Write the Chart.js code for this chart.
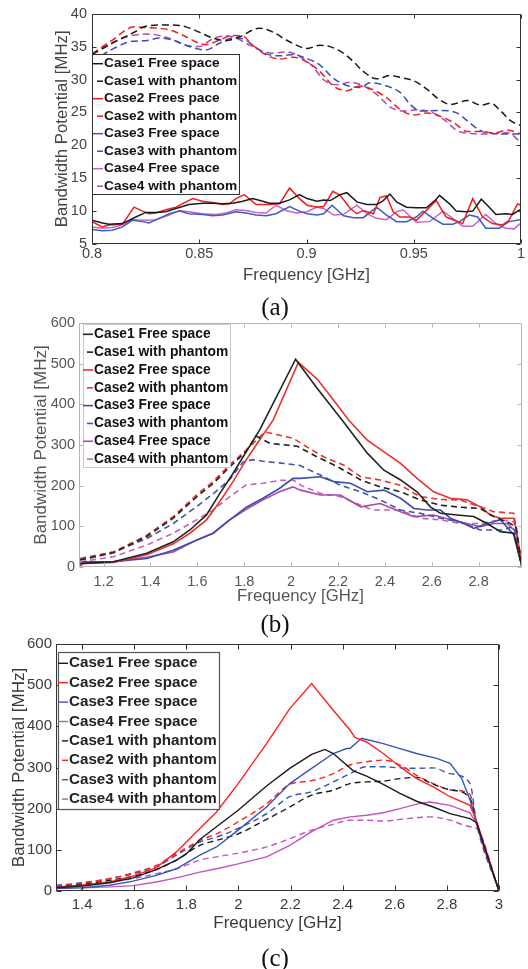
<!DOCTYPE html>
<html><head><meta charset="utf-8">
<script src="https://cdn.jsdelivr.net/npm/chart.js@4.4.1/dist/chart.umd.min.js"></script>
<style>
html,body{margin:0;padding:0;background:#fff}
body{width:528px;height:969px;position:relative;overflow:hidden}
canvas{position:absolute;left:0}
.cap{position:absolute;left:0;width:550px;text-align:center;font-family:"Liberation Serif","Times New Roman",serif;font-size:25px;line-height:25px;color:#111}
</style></head><body>
<canvas id="ca" width="528" height="290" style="top:0"></canvas>
<canvas id="cb" width="528" height="310" style="top:300px"></canvas>
<canvas id="cc" width="528" height="320" style="top:630px"></canvas>
<div class="cap" style="top:294px">(a)</div>
<div class="cap" style="top:611px">(b)</div>
<div class="cap" style="top:945px">(c)</div>
<script>
// ---------------- Panel (a) ----------------
const aXTicks = [0.8, 0.85, 0.9, 0.95, 1.0];
const aXTickLabels = ['0.8', '0.85', '0.9', '0.95', '1'];
const aYTicks = [5, 10, 15, 20, 25, 30, 35, 40];
const aYTickLabels = ['5', '10', '15', '20', '25', '30', '35', '40'];

const aC1FreeF = [0.8,0.8048,0.8079,0.8142,0.8204,0.8251,0.8298,0.8344,0.8391,0.8453,0.8516,0.8562,0.8609,0.8656,0.8703,0.8749,0.8796,0.8827,0.8874,0.8921,0.8967,0.9003,0.9049,0.908,0.9111,0.9157,0.9188,0.9235,0.9281,0.9327,0.9358,0.9389,0.942,0.9466,0.9512,0.9559,0.9605,0.962,0.9667,0.9698,0.9744,0.9775,0.9815,0.9852,0.9883,0.9929,0.996,1.0];
const aC1FreeV = [8.6,8.2,8.0,8.1,9.1,9.8,9.8,9.9,10.4,11.0,11.2,11.2,11.1,11.2,11.5,11.9,11.5,11.2,11.2,11.7,12.5,11.9,11.5,11.7,11.6,12.5,12.8,11.4,11.0,11.0,11.6,12.6,11.4,10.6,10.5,10.5,11.8,12.4,11.1,10.0,9.9,10.0,11.8,10.6,9.5,9.6,9.5,10.3];
const aC1PhF = [0.8,0.81,0.8203,0.825,0.8375,0.8438,0.85,0.8563,0.8625,0.8688,0.8781,0.8844,0.8906,0.8969,0.9,0.9063,0.9109,0.9172,0.9219,0.9266,0.9328,0.9391,0.9438,0.95,0.9563,0.9609,0.9672,0.975,0.9813,0.9859,0.9906,0.9953,1.0];
const aC1PhV = [33.8,35.6,37.3,38.1,38.3,38.0,37.2,36.3,35.9,36.5,37.8,37.2,36.0,35.0,34.7,35.2,35.0,34.0,32.7,31.2,30.1,30.6,30.3,29.8,28.5,27.2,26.2,26.8,26.1,26.4,25.2,23.7,23.0];
const aC2FreeF = [0.8,0.8048,0.8079,0.8142,0.8196,0.8235,0.8266,0.8298,0.8344,0.8391,0.8438,0.8469,0.8516,0.8562,0.8609,0.864,0.8671,0.871,0.8765,0.8827,0.8874,0.8921,0.8967,0.9003,0.9049,0.908,0.9123,0.9157,0.9204,0.9235,0.9265,0.9312,0.9343,0.9373,0.9404,0.9435,0.9481,0.9512,0.9543,0.9574,0.9605,0.9651,0.9698,0.9728,0.9775,0.9821,0.9867,0.9914,0.9944,0.9984,1.0];
const aC2FreeV = [8.4,7.6,7.9,8.0,10.6,10.0,9.6,9.7,10.2,10.6,11.4,11.9,11.5,11.3,11.0,11.1,11.9,12.5,11.0,11.0,11.1,13.5,11.9,10.9,10.6,10.7,13.0,12.4,10.4,9.6,10.1,9.6,12.1,12.3,9.9,9.1,9.1,8.6,9.6,10.6,11.6,9.1,8.5,8.1,11.9,9.1,8.1,7.9,8.6,11.1,10.9];
const aC2PhF = [0.8,0.8095,0.8196,0.825,0.8313,0.8375,0.8438,0.85,0.8531,0.8594,0.8656,0.8703,0.875,0.8813,0.8875,0.8938,0.9,0.9063,0.9125,0.9188,0.925,0.9313,0.9375,0.9438,0.95,0.9563,0.9625,0.9688,0.975,0.9813,0.9875,0.9938,1.0];
const aC2PhV = [33.9,36.0,38.0,37.9,37.8,37.4,36.5,35.5,35.3,36.0,36.7,36.6,35.2,33.7,33.1,33.4,32.7,31.2,29.0,28.3,29.0,28.4,27.2,25.4,24.6,24.9,24.4,23.4,22.1,22.1,21.9,22.3,21.7];
const aC3FreeF = [0.8,0.8048,0.8095,0.8142,0.8188,0.8235,0.8266,0.8313,0.836,0.8407,0.8453,0.8516,0.8562,0.8609,0.8671,0.8718,0.8765,0.8812,0.8858,0.8921,0.8967,0.9003,0.9049,0.908,0.9119,0.9173,0.9219,0.9265,0.9327,0.9373,0.942,0.9466,0.9512,0.9543,0.959,0.9636,0.9682,0.9713,0.9759,0.9798,0.9836,0.9898,0.9944,0.9995];
const aC3FreeV = [7.2,7.0,7.1,7.6,8.6,8.4,8.2,8.9,9.6,10.0,9.6,9.5,9.3,9.4,9.9,9.7,9.4,9.3,9.6,10.7,10.0,9.6,9.4,9.6,10.9,9.3,9.0,9.0,10.6,9.4,8.4,8.4,9.1,10.0,8.9,8.0,8.0,8.4,9.4,9.1,7.4,7.4,8.4,8.7];
const aC3PhF = [0.8,0.81,0.8188,0.825,0.8313,0.8375,0.8438,0.85,0.8531,0.8594,0.8656,0.8703,0.875,0.8813,0.8875,0.8938,0.9,0.9063,0.9125,0.9188,0.925,0.9297,0.9375,0.9438,0.9484,0.9531,0.9625,0.9703,0.975,0.9813,0.9875,0.9938,1.0];
const aC3PhV = [32.7,34.7,35.8,35.9,36.3,36.0,35.2,34.6,34.5,35.5,36.3,36.2,35.2,33.9,33.6,33.8,33.2,32.2,30.2,29.1,28.8,29.5,29.0,28.0,26.2,25.2,25.3,24.9,23.7,22.2,21.8,21.7,21.7];
const aC4FreeF = [0.8,0.8048,0.8095,0.8142,0.8188,0.8251,0.8298,0.836,0.8407,0.8453,0.8516,0.8578,0.8625,0.8671,0.8718,0.8765,0.8812,0.8858,0.8905,0.8952,0.9003,0.9049,0.908,0.9127,0.9173,0.9235,0.9281,0.9327,0.9373,0.942,0.9451,0.9512,0.9574,0.9636,0.9682,0.9728,0.9775,0.9836,0.9883,0.9929,0.9968,0.9995];
const aC4FreeV = [7.6,7.4,7.5,7.9,8.7,8.6,8.7,9.4,10.1,9.9,9.6,9.5,9.7,10.2,10.1,9.8,9.7,10.9,10.1,9.7,9.9,10.6,10.4,9.4,9.5,10.9,9.6,8.9,8.7,9.9,10.2,8.3,8.4,10.0,8.9,7.7,7.7,9.5,8.1,7.4,7.3,8.1];
const aC4PhF = [0.8,0.81,0.8188,0.825,0.8313,0.8375,0.8438,0.85,0.8563,0.8625,0.8656,0.8719,0.8781,0.8844,0.8906,0.8969,0.9031,0.9078,0.9141,0.9203,0.9266,0.9328,0.9391,0.9453,0.9516,0.9578,0.9641,0.9703,0.9766,0.9828,0.9891,0.9938,1.0];
const aC4PhV = [33.9,35.7,36.7,36.9,36.7,36.1,35.2,35.0,36.2,36.6,36.5,35.5,34.5,34.0,34.2,33.5,31.9,30.0,29.2,29.6,29.0,27.7,25.8,25.2,25.4,25.1,23.9,22.2,21.8,21.7,21.8,21.9,20.4];

// ---------------- Panel (b) ----------------
const bXTicks = [1.2, 1.4, 1.6, 1.8, 2.0, 2.2, 2.4, 2.6, 2.8];
const bXTickLabels = ['1.2', '1.4', '1.6', '1.8', '2', '2.2', '2.4', '2.6', '2.8'];
const bYTicks = [0, 100, 200, 300, 400, 500, 600];
const bYTickLabels = ['0', '100', '200', '300', '400', '500', '600'];

const bC1FreeF = [1.1,1.242,1.384,1.497,1.568,1.639,1.696,1.752,1.809,1.866,2.019,2.11,2.218,2.325,2.396,2.467,2.537,2.594,2.637,2.708,2.779,2.836,2.893,2.95,2.985];
const bC1FreeV = [9,13,34,62,91,128,181,230,284,337,511,440,361,280,238,214,185,148,132,128,124,107,87,83,0];
const bC1PhF = [1.1,1.242,1.384,1.497,1.596,1.667,1.738,1.809,1.85,1.91,2.026,2.11,2.197,2.297,2.38,2.467,2.55,2.637,2.72,2.807,2.864,2.92,2.96,2.985];
const bC1PhV = [17,35,75,120,172,205,246,285,322,304,297,271,247,214,197,185,165,152,147,144,124,111,99,0];
const bC2FreeF = [1.1,1.242,1.384,1.497,1.568,1.639,1.696,1.752,1.809,1.866,1.923,2.031,2.111,2.18,2.246,2.325,2.396,2.467,2.537,2.608,2.679,2.75,2.807,2.85,2.893,2.95,2.96,2.985];
const bC2FreeV = [8,11,30,57,83,116,161,210,264,313,361,503,462,411,361,312,283,255,218,185,169,165,148,128,120,120,92,0];
const bC2PhF = [1.1,1.242,1.384,1.497,1.596,1.667,1.738,1.809,1.866,1.89,2.01,2.054,2.138,2.223,2.297,2.38,2.467,2.55,2.637,2.72,2.807,2.864,2.95,2.985];
const bC2PhV = [18,37,78,124,177,210,251,288,320,332,316,300,271,251,222,214,201,173,166,165,148,136,132,0];
const bC3FreeF = [1.1,1.115,1.242,1.384,1.497,1.596,1.667,1.738,1.809,1.88,1.95,2.008,2.04,2.125,2.182,2.253,2.325,2.396,2.467,2.524,2.58,2.637,2.68,2.736,2.78,2.836,2.893,2.95,2.985];
const bC3FreeV = [2,13,13,21,41,66,83,116,147,169,193,218,218,222,210,206,185,189,169,144,140,140,120,107,95,107,116,79,0];
const bC3PhF = [1.1,1.242,1.384,1.497,1.596,1.667,1.738,1.795,1.838,1.88,1.95,2.036,2.125,2.21,2.297,2.38,2.467,2.55,2.637,2.72,2.807,2.893,2.95,2.985];
const bC3PhV = [21,37,70,107,148,180,215,258,264,260,256,250,226,201,185,165,140,132,120,111,91,91,99,0];
const bC4FreeF = [1.1,1.242,1.384,1.497,1.596,1.667,1.738,1.809,1.88,1.95,2.008,2.04,2.125,2.21,2.297,2.38,2.467,2.524,2.608,2.68,2.75,2.807,2.864,2.92,2.96,2.985];
const bC4FreeV = [8,13,24,37,66,83,116,142,165,185,197,189,177,177,148,156,136,124,128,116,107,99,107,107,87,0];
const bC4PhF = [1.1,1.242,1.384,1.497,1.596,1.667,1.738,1.809,1.88,1.95,2.008,2.045,2.125,2.21,2.297,2.35,2.467,2.55,2.637,2.72,2.807,2.893,2.95,2.985];
const bC4PhV = [13,25,54,83,116,140,173,202,206,213,214,200,181,173,152,140,140,120,116,107,107,116,111,0];

// ---------------- Panel (c) ----------------
const cXTicks = [1.4, 1.6, 1.8, 2.0, 2.2, 2.4, 2.6, 2.8, 3.0];
const cXTickLabels = ['1.4', '1.6', '1.8', '2', '2.2', '2.4', '2.6', '2.8', '3'];
const cYTicks = [0, 100, 200, 300, 400, 500, 600];
const cYTickLabels = ['0', '100', '200', '300', '400', '500', '600'];

const cC1FreeF = [1.3,1.4,1.506,1.596,1.685,1.762,1.8,1.852,1.916,1.999,2.108,2.197,2.281,2.332,2.364,2.441,2.492,2.556,2.62,2.684,2.748,2.812,2.889,2.914,3.0];
const cC1FreeV = [8,12,20,32,52,75,90,125,156,196,255,298,332,344,334,292,279,259,237,218,204,188,176,166,0];
const cC2FreeF = [1.3,1.4,1.506,1.596,1.685,1.762,1.852,1.916,1.999,2.108,2.197,2.281,2.364,2.428,2.447,2.492,2.556,2.62,2.684,2.748,2.812,2.889,2.914,3.0];
const cC2FreeV = [10,14,22,36,57,95,152,192,261,358,443,504,439,391,373,362,334,302,273,253,229,208,170,0];
const cC3FreeF = [1.3,1.4,1.506,1.596,1.685,1.762,1.852,1.916,1.999,2.108,2.197,2.281,2.364,2.415,2.428,2.473,2.492,2.556,2.62,2.684,2.761,2.812,2.857,2.889,2.914,3.0];
const cC3FreeV = [6,8,14,24,38,54,87,107,148,204,261,298,334,346,346,371,368,358,346,334,322,310,273,221,164,0];
const cC4FreeF = [1.3,1.395,1.4,1.506,1.596,1.685,1.762,1.852,1.916,1.999,2.108,2.197,2.281,2.364,2.428,2.492,2.556,2.62,2.684,2.735,2.812,2.889,2.914,3.0];
const cC4FreeV = [0,0,8,10,13,22,32,46,54,66,83,111,144,172,180,184,190,200,211,216,208,190,164,0];
const cPhF = [1.3,1.4,1.506,1.596,1.685,1.762,1.852,1.916,1.999,2.108,2.197,2.281,2.364,2.428,2.492,2.556,2.62,2.684,2.748,2.812,2.889,2.914,3.0];
const cC1PhV = [10,16,26,36,52,75,111,123,139,174,204,233,245,261,265,267,273,276,259,246,225,164,0];
const cC2PhV = [11,19,30,44,62,91,123,139,168,212,259,268,285,306,314,318,306,281,261,246,234,164,0];
const cC3PhV = [14,20,30,42,58,87,119,131,152,188,229,241,265,285,302,302,299,298,299,285,261,164,0];
const cC4PhF = [1.3,1.4,1.506,1.596,1.685,1.762,1.852,1.916,1.999,2.108,2.197,2.281,2.364,2.428,2.492,2.556,2.62,2.684,2.735,2.812,2.889,2.914,3.0];
const cC4PhV = [11,14,22,30,42,54,75,83,92,107,127,148,162,172,172,170,174,178,180,172,156,152,0];

// ---------------- helpers ----------------
const FONT = '"Liberation Sans", Arial, Helvetica, sans-serif';
const pts = (f, v) => f.map((x, i) => ({x: x, y: v[i]}));

function line(label, f, v, color, dashed, width, smooth) {
  return {
    label: label, data: pts(f, v), borderColor: color, backgroundColor: color,
    borderWidth: width, borderDash: dashed ? dashed : [], pointRadius: 0, fill: false,
    tension: 0, cubicInterpolationMode: smooth ? 'monotone' : 'default'
  };
}

function axis(o) {
  return {
    type: 'linear', min: o.min, max: o.max, bounds: 'data',
    afterBuildTicks: s => { s.ticks = o.ticks.map(v => ({value: v})); },
    afterFit: s => { if (o.w != null) s.width = o.w; if (o.h != null) s.height = o.h; },
    grid: {display: false, drawTicks: false},
    border: {display: false},
    ticks: {autoSkip: false, maxRotation: 0, padding: o.pad, color: o.color,
            font: {size: o.fs, family: FONT}, callback: (v, i) => o.labels[i]},
    title: {display: true, text: o.title, color: o.color, padding: 0,
            font: {size: o.tfs, family: FONT}}
  };
}

const framePlugin = {
  id: 'frame',
  afterDatasetsDraw(chart, args, o) {
    const {ctx, chartArea: a, scales} = chart;
    const x = scales.x, y = scales.y;
    ctx.save();
    ctx.strokeStyle = o.color; ctx.lineWidth = o.width;
    const L = Math.round(a.left) + 0.5, R = Math.round(a.right) - 0.5;
    const T = Math.round(a.top) + 0.5, B = Math.round(a.bottom) - 0.5;
    ctx.beginPath();
    ctx.rect(L, T, R - L, B - T);
    const t = o.tick;
    x.ticks.forEach(tk => {
      const p = Math.round(x.getPixelForValue(tk.value)) + 0.5;
      ctx.moveTo(p, B); ctx.lineTo(p, B - t);
      ctx.moveTo(p, T); ctx.lineTo(p, T + t);
    });
    y.ticks.forEach(tk => {
      const p = Math.round(y.getPixelForValue(tk.value)) + 0.5;
      ctx.moveTo(L, p); ctx.lineTo(L + t, p);
      ctx.moveTo(R, p); ctx.lineTo(R - t, p);
    });
    ctx.stroke();
    ctx.restore();
  }
};

const boxLegend = {
  id: 'boxLegend',
  afterDatasetsDraw(chart, args, o) {
    const {ctx, chartArea: a} = chart;
    const ds = chart.data.datasets;
    const L = Math.round(a.left + o.dx), T = Math.round(a.top + o.dy);
    ctx.save();
    ctx.fillStyle = '#fff';
    ctx.fillRect(L, T, o.w, o.h);
    ctx.strokeStyle = o.border; ctx.lineWidth = o.borderWidth;
    ctx.strokeRect(L + 0.5, T + 0.5, o.w, o.h);
    ctx.font = 'bold ' + o.fs + 'px ' + FONT;
    ctx.textBaseline = 'middle';
    ds.forEach((d, r) => {
      const cy = T + o.first + r * o.row;
      const dashed = d.borderDash && d.borderDash.length;
      ctx.setLineDash([]);
      ctx.strokeStyle = d.borderColor; ctx.lineWidth = d.borderWidth;
      ctx.beginPath();
      ctx.moveTo(L + o.textX - (dashed ? 7 : 11), cy);
      ctx.lineTo(L + o.textX - 1, cy);
      ctx.stroke();
      ctx.fillStyle = o.color;
      ctx.fillText(d.label, L + o.textX, cy);
    });
    ctx.restore();
  }
};

function makeChart(id, datasets, sx, sy, pad, frame, legend) {
  return new Chart(document.getElementById(id), {
    type: 'line',
    data: {datasets: datasets},
    options: {
      responsive: false, animation: false, devicePixelRatio: 1,
      layout: {padding: pad},
      scales: {x: axis(sx), y: axis(sy)},
      plugins: {legend: {display: false}, tooltip: {enabled: false},
                frame: frame, boxLegend: legend}
    },
    plugins: [framePlugin, boxLegend]
  });
}

// colours
const A = {k: '#1a1a1a', r: '#f21d1d', b: '#3d5cc2', m: '#c764c7', mD: '#b548b0', bD: '#3552b5'};
const aDash = [7, 4];
makeChart('ca', [
  line('Case1 Free space', aC1FreeF, aC1FreeV, A.k, null, 1.5, false),
  line('Case1 with phantom', aC1PhF, aC1PhV, A.k, aDash, 1.5, true),
  line('Case2 Frees pace', aC2FreeF, aC2FreeV, A.r, null, 1.5, false),
  line('Case2 with phantom', aC2PhF, aC2PhV, A.r, aDash, 1.5, true),
  line('Case3 Free space', aC3FreeF, aC3FreeV, A.b, null, 1.5, false),
  line('Case3 with phantom', aC3PhF, aC3PhV, A.bD, aDash, 1.5, true),
  line('Case4 Free space', aC4FreeF, aC4FreeV, A.m, null, 1.5, false),
  line('Case4 with phantom', aC4PhF, aC4PhV, A.mD, aDash, 1.5, true)
],
{min: 0.8, max: 1.0, ticks: aXTicks, labels: aXTickLabels, pad: 1, color: '#444', fs: 14.5, tfs: 16.8, title: 'Frequency [GHz]', h: 41},
{min: 5, max: 40, ticks: aYTicks, labels: aYTickLabels, pad: 5, color: '#444', fs: 14.5, tfs: 16.8, title: 'Bandwidth Potential [MHz]', w: 40},
{left: 52, right: 7, top: 12, bottom: 5},
{color: '#333', width: 1, tick: 4},
{dx: 0, dy: 40, w: 147, h: 140, first: 9.7, row: 17.5, textX: 12, fs: 13.7, color: '#111', border: '#333', borderWidth: 1});

const Bc = {k: '#222', r: '#e8322e', b: '#3b4ea8', m: '#a94aa9', mD: '#c266b4', bD: '#3f55ad'};
const bDash = [6, 4];
makeChart('cb', [
  line('Case1 Free space', bC1FreeF, bC1FreeV, Bc.k, null, 1.6, false),
  line('Case1 with phantom', bC1PhF, bC1PhV, Bc.k, bDash, 1.6, false),
  line('Case2 Free space', bC2FreeF, bC2FreeV, Bc.r, null, 1.6, false),
  line('Case2 with phantom', bC2PhF, bC2PhV, Bc.r, bDash, 1.6, false),
  line('Case3 Free space', bC3FreeF, bC3FreeV, Bc.b, null, 1.6, false),
  line('Case3 with phantom', bC3PhF, bC3PhV, Bc.bD, bDash, 1.6, false),
  line('Case4 Free space', bC4FreeF, bC4FreeV, Bc.m, null, 1.6, false),
  line('Case4 with phantom', bC4PhF, bC4PhV, Bc.mD, bDash, 1.6, false)
],
{min: 1.095, max: 2.985, ticks: bXTicks, labels: bXTickLabels, pad: 6, color: '#555', fs: 14.5, tfs: 16.8, title: 'Frequency [GHz]', h: 39},
{min: 0, max: 600, ticks: bYTicks, labels: bYTickLabels, pad: 4, color: '#555', fs: 14.5, tfs: 17, title: 'Bandwidth Potential [MHz]', w: 48},
{left: 31, right: 6, top: 23, bottom: 4},
{color: '#b5b5b5', width: 1, tick: 4},
{dx: 4, dy: 1, w: 147, h: 143, first: 10.3, row: 17.83, textX: 11, fs: 13.8, color: '#111', border: '#c8c8c8', borderWidth: 1});

const Cc = {k: '#1a1a1a', r: '#ff2020', b: '#3556b8', m: '#c452c4'};
const cDash = [6, 4];
makeChart('cc', [
  line('Case1 Free space', cC1FreeF, cC1FreeV, Cc.k, null, 1.4, false),
  line('Case2 Free space', cC2FreeF, cC2FreeV, Cc.r, null, 1.4, false),
  line('Case3 Free space', cC3FreeF, cC3FreeV, Cc.b, null, 1.4, false),
  line('Case4 Free space', cC4FreeF, cC4FreeV, Cc.m, null, 1.4, false),
  line('Case1 with phantom', cPhF, cC1PhV, Cc.k, cDash, 1.4, true),
  line('Case2 with phantom', cPhF, cC2PhV, Cc.r, cDash, 1.4, true),
  line('Case3 with phantom', cPhF, cC3PhV, Cc.b, cDash, 1.4, true),
  line('Case4 with phantom', cC4PhF, cC4PhV, Cc.m, cDash, 1.4, true)
],
{min: 1.3, max: 3.0, ticks: cXTicks, labels: cXTickLabels, pad: 5, color: '#3a3a3a', fs: 15, tfs: 17, title: 'Frequency [GHz]', h: 43},
{min: 0, max: 600, ticks: cYTicks, labels: cYTickLabels, pad: 4, color: '#3a3a3a', fs: 15, tfs: 17, title: 'Bandwidth Potential [MHz]', w: 47},
{left: 9, right: 29, top: 14, bottom: 16},
{color: '#333', width: 1, tick: 5},
{dx: 2, dy: 8, w: 161, h: 157, first: 11.3, row: 19.4, textX: 11, fs: 15.2, color: '#222', border: '#555', borderWidth: 1.2});
</script>
</body></html>
